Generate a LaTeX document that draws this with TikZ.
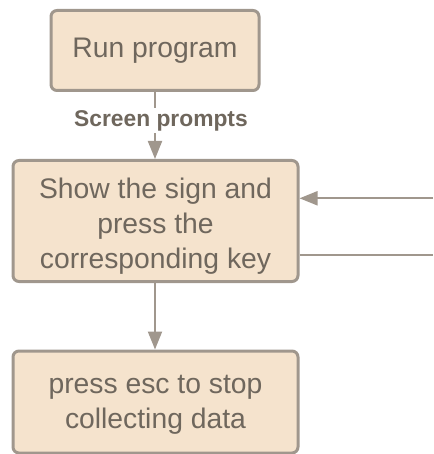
\documentclass[tikz,border=0pt]{standalone}
\usepackage{fontspec}
\setmainfont{Liberation Sans}
\usetikzlibrary{arrows.meta}
\definecolor{boxfill}{HTML}{F5E3CD}
\definecolor{boxline}{HTML}{A0978D}
\definecolor{txt}{HTML}{6F675D}
\begin{document}
\begin{tikzpicture}[x=1pt,y=-1pt,
  flowbox/.style={draw=boxline,fill=boxfill,line width=3pt,rounded corners=6pt,
    inner sep=0pt,align=center,text=txt,font=\fontsize{28.3}{35}\selectfont},
  conn/.style={draw=boxline,line width=2pt,-{Triangle[length=18pt,width=14pt]}},
  plain/.style={draw=boxline,line width=2pt},
  lbl/.style={fill=white,text=txt,font=\bfseries\fontsize{22.8}{25}\selectfont,inner sep=2pt}]
\useasboundingbox (0,0) rectangle (433,454);
\node[flowbox,minimum width=208pt,minimum height=80pt] (run) at (155,50.5) {Run program};
\node[flowbox,minimum width=285pt,minimum height=121pt] (show) at (155.5,221) {\rule{0pt}{31pt}Show the sign and\\press the\\corresponding key};
\node[flowbox,minimum width=285pt,minimum height=102pt] (esc) at (155.5,402) {\rule{0pt}{24pt}press esc to stop\\collecting data};
\coordinate (r1) at (433,198.3);
\coordinate (r2) at (433,255);
\draw[conn] (run.south -| 155,0) -- node[lbl,pos=0.43,xshift=6pt] (sp) {Screen prompts} (show.north -| 155,0);
\draw[conn] (r1) -- (show.east |- r1);
\draw[plain] (show.east |- r2) -- (r2);
\draw[conn] (show.south -| 155,0) -- (esc.north -| 155,0);
\end{tikzpicture}
\end{document}
